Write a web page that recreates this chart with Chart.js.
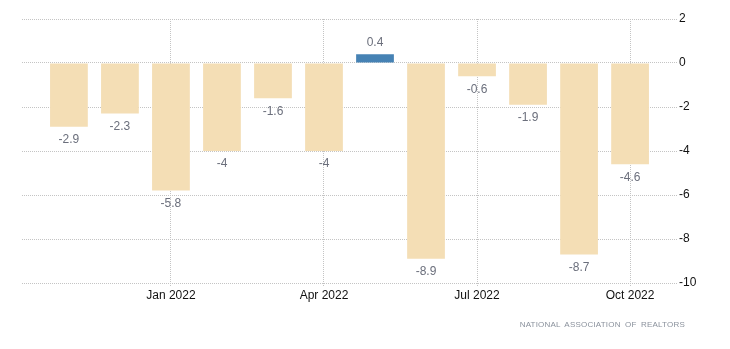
<!DOCTYPE html>
<html>
<head>
<meta charset="utf-8">
<script src="https://cdn.jsdelivr.net/npm/chart.js@4/dist/chart.umd.min.js"></script>
<style>
  html, body { margin: 0; padding: 0; background: #fff; }
  #wrap { position: relative; width: 730px; height: 349px; }
  #source { position: absolute; right: 45px; top: 320px; font-family: "Liberation Sans", Arial, sans-serif;
            font-size: 8px; letter-spacing: 0.2px; word-spacing: 2px; color: #8a919c; white-space: nowrap; }
</style>
</head>
<body>
<div id="wrap">
  <canvas id="c" width="730" height="349"></canvas>
  <div id="source">NATIONAL ASSOCIATION OF REALTORS</div>
</div>
<script>
const months = ['Nov 2021','Dec 2021','Jan 2022','Feb 2022','Mar 2022','Apr 2022','May 2022','Jun 2022','Jul 2022','Aug 2022','Sep 2022','Oct 2022'];
const values = [-2.9, -2.3, -5.8, -4, -1.6, -4, 0.4, -8.9, -0.6, -1.9, -8.7, -4.6];
const tickLabels = ['Jan 2022','Apr 2022','Jul 2022','Oct 2022'];
const yTicks = [2, 0, -2, -4, -6, -8, -10];

const points = values.map((v, i) => ({ x: i, y: v }));
const tickIndex = tickLabels.map(l => months.indexOf(l));

const dataLabels = {
  id: 'dataLabels',
  afterDatasetsDraw(chart) {
    const ctx = chart.ctx;
    const meta = chart.getDatasetMeta(0);
    ctx.save();
    ctx.font = '12px "Liberation Sans", Arial, sans-serif';
    ctx.fillStyle = '#6b6f7c';
    ctx.textAlign = 'center';
    ctx.textBaseline = 'middle';
    meta.data.forEach((el, i) => {
      const v = values[i];
      const y = v < 0 ? el.y + 13 : el.y - 12;
      ctx.fillText(String(v), el.x, y);
    });
    ctx.restore();
  }
};

new Chart(document.getElementById('c'), {
  type: 'bar',
  data: {
    datasets: [{
      data: points,
      backgroundColor: values.map(v => v >= 0 ? '#4682b4' : '#f4deb5'),
      borderWidth: 0,
      categoryPercentage: 1,
      barPercentage: 0.74
    }]
  },
  options: {
    responsive: false,
    animation: false,
    layout: { padding: { left: 22, top: 19, right: 0, bottom: 0 } },
    plugins: { legend: { display: false }, tooltip: { enabled: false } },
    scales: {
      x: {
        type: 'linear',
        offset: false,
        min: -0.92,
        max: 11.92,
        afterBuildTicks(scale) { scale.ticks = tickIndex.map(v => ({ value: v })); },
        afterFit(scale) { scale.height = 66; },
        ticks: {
          autoSkip: false,
          maxRotation: 0,
          padding: 2,
          color: '#111',
          font: { family: '"Liberation Sans", Arial, sans-serif', size: 12 },
          callback: (v) => months[v] !== undefined && tickLabels.includes(months[v]) ? months[v] : ''
        },
        grid: {
          offset: false,
          color: '#c4c4c4',
          lineWidth: 1,
          tickLength: 3,
          tickBorderDash: [1, 1]
        },
        border: { display: false, dash: [1, 1] }
      },
      y: {
        position: 'right',
        min: -10,
        max: 2,
        afterBuildTicks(scale) { scale.ticks = yTicks.map(v => ({ value: v })); },
        afterFit(scale) { scale.width = 53; },
        ticks: {
          padding: 2,
          color: '#111',
          font: { family: '"Liberation Sans", Arial, sans-serif', size: 12 }
        },
        grid: {
          color: '#c4c4c4',
          lineWidth: 1,
          drawTicks: false
        },
        border: { display: false, dash: [1, 1] }
      }
    }
  },
  plugins: [dataLabels]
});
</script>
</body>
</html>
